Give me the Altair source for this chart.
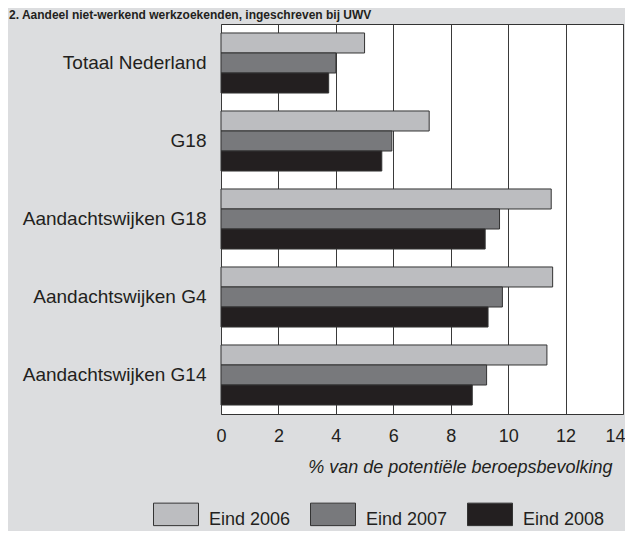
import altair as alt
import pandas as pd

categories = ["Totaal Nederland", "G18", "Aandachtswijken G18", "Aandachtswijken G4", "Aandachtswijken G14"]
series = ["Eind 2006", "Eind 2007", "Eind 2008"]
eind_2006 = [5.0, 7.25, 11.5, 11.55, 11.35]
eind_2007 = [4.0, 5.95, 9.7, 9.8, 9.25]
eind_2008 = [3.75, 5.6, 9.2, 9.3, 8.75]
colors = ["#bcbdc0", "#78797c", "#231f20"]
x_ticks = [0, 2, 4, 6, 8, 10, 12, 14]

rows = []
for s, vals in zip(series, [eind_2006, eind_2007, eind_2008]):
    for c, v in zip(categories, vals):
        rows.append({"category": c, "series": s, "value": v})
df = pd.DataFrame(rows)

FONT = "Liberation Sans"
TXT = "#231f20"

chart = alt.Chart(df).mark_bar(stroke="#333333", strokeWidth=1, opacity=1).encode(
    x=alt.X(
        "value:Q",
        scale=alt.Scale(domain=[0, 14], nice=False, zero=True),
        axis=alt.Axis(
            values=x_ticks, grid=True, gridColor="#3a3a3a", gridWidth=1, gridOpacity=1,
            ticks=False, domain=False, labelFontSize=18, labelPadding=13, labelColor=TXT,
            labelFont=FONT, labelFlush=False,
            labelAlign={"condition": {"test": "datum.value == 14", "value": "right"}, "value": "center"},
            labelOffset={"condition": {"test": "datum.value == 14", "value": 2}, "value": 0},
            title="% van de potentiële beroepsbevolking", titleFont=FONT, titleFontSize=18,
            titleFontStyle="italic", titleFontWeight="normal", titleColor=TXT,
            titleAlign="right", titleX=391, titleY=58, titleBaseline="alphabetic",
        ),
    ),
    y=alt.Y(
        "category:N", sort=categories,
        scale=alt.Scale(paddingInner=0.23, paddingOuter=0.115),
        axis=alt.Axis(title=None, ticks=False, domain=False, labelFontSize=19,
                      labelPadding=15, labelLimit=300, labelColor=TXT, labelFont=FONT),
    ),
    yOffset=alt.YOffset("series:N", sort=series, scale=alt.Scale(paddingInner=0, paddingOuter=0)),
    color=alt.Color(
        "series:N", sort=series,
        scale=alt.Scale(domain=series, range=colors),
        legend=alt.Legend(
            title=None, orient="none", direction="horizontal", legendX=-68, legendY=473,
            symbolType="M-1,-0.75H1V0.25H-1Z", symbolSize=2025, symbolStrokeColor="#333333",
            symbolStrokeWidth=1, symbolOpacity=1, labelFontSize=18, labelFont=FONT,
            labelColor=TXT, labelOffset=10, columnPadding=17, padding=0, labelBaseline="middle",
        ),
    ),
).properties(
    width=402,
    height=390,
    autosize=alt.AutoSizeParams(type="none"),
    padding={"left": 213, "top": 16, "right": 2, "bottom": 117},
    background="#dcdddf",
    title=alt.TitleParams(
        "2. Aandeel niet-werkend werkzoekenden, ingeschreven bij UWV",
        anchor="start", frame="group", dx=-212, fontSize=12, font=FONT, fontWeight="bold",
        color=TXT, offset=2,
    ),
).configure_view(fill="white", stroke="#333333", strokeWidth=1)

chart.save("out.html", embed_options={"renderer": "svg", "actions": False})
